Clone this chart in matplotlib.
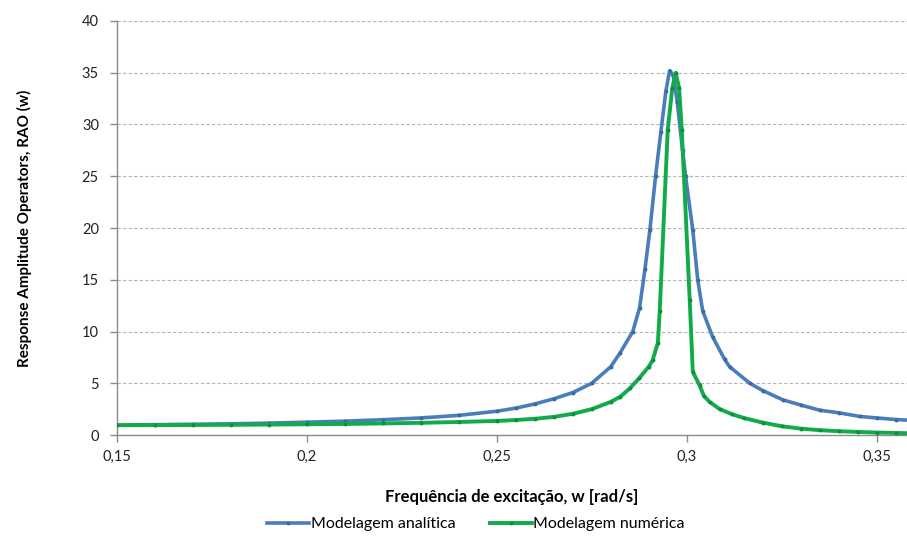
import matplotlib
matplotlib.use("Agg")
import matplotlib.pyplot as plt
from matplotlib.ticker import FuncFormatter

# Excitation frequency [rad/s] and RAO values, analytical model
w_analitica = [0.150, 0.160, 0.170, 0.180, 0.190, 0.200, 0.210, 0.220, 0.230,
               0.240, 0.250, 0.255, 0.260, 0.265, 0.270, 0.275, 0.280, 0.2824,
               0.2858, 0.2876, 0.2890, 0.2903, 0.2918, 0.2932, 0.2945, 0.2955,
               0.2965, 0.2975, 0.2989, 0.2997, 0.3016, 0.3029, 0.3042, 0.3068,
               0.3100, 0.3113, 0.3166, 0.3200, 0.3253, 0.3300, 0.3350, 0.3400,
               0.3455, 0.3500, 0.3550, 0.3600]
rao_analitica = [0.95, 1.00, 1.04, 1.08, 1.15, 1.24, 1.34, 1.48, 1.65,
                 1.90, 2.30, 2.60, 3.00, 3.50, 4.10, 5.00, 6.60, 7.90,
                 10.0, 12.3, 16.0, 19.8, 25.0, 29.3, 33.2, 35.2,
                 34.7, 32.2, 27.5, 25.0, 19.8, 15.0, 12.0, 9.5,
                 7.30, 6.60, 5.00, 4.30, 3.40, 2.90, 2.40, 2.15,
                 1.80, 1.65, 1.50, 1.40]

# Excitation frequency [rad/s] and RAO values, numerical model
w_numerica = [0.150, 0.160, 0.170, 0.180, 0.190, 0.200, 0.210, 0.220, 0.230,
              0.240, 0.250, 0.255, 0.260, 0.265, 0.270, 0.275, 0.280, 0.2825,
              0.285, 0.2875, 0.290, 0.291, 0.2924, 0.2929, 0.2950, 0.2962,
              0.2971, 0.2980, 0.2987, 0.3008, 0.3016, 0.3034, 0.3045, 0.3060,
              0.3087, 0.3120, 0.3150, 0.3200, 0.3250, 0.3300, 0.3350, 0.3400,
              0.3450, 0.3500, 0.3550, 0.3600]
rao_numerica = [0.95, 0.96, 0.97, 0.99, 1.01, 1.04, 1.07, 1.12, 1.18,
                1.26, 1.36, 1.45, 1.57, 1.75, 2.05, 2.50, 3.20, 3.70,
                4.50, 5.50, 6.60, 7.20, 8.90, 12.0, 29.5, 33.5,
                35.0, 33.5, 29.5, 13.0, 6.10, 4.80, 3.80, 3.20,
                2.50, 2.00, 1.65, 1.20, 0.85, 0.62, 0.47, 0.37,
                0.30, 0.24, 0.20, 0.16]

x_ticks = [0.15, 0.20, 0.25, 0.30, 0.35]
y_ticks = [0, 5, 10, 15, 20, 25, 30, 35, 40]

label_analitica = "Modelagem analítica"
label_numerica = "Modelagem numérica"
x_title = "Frequência de excitação, w [rad/s]"
y_title = "Response Amplitude Operators, RAO (w)"

plt.rcParams["font.family"] = ["Lato", "DejaVu Sans"]

fig = plt.figure(figsize=(9.07, 5.38), dpi=100)
ax = fig.add_axes([0.129, 0.1914, 0.871, 0.7696])

blue = "#4a7ebb"
green = "#12ab4a"

ax.plot(w_analitica, rao_analitica, color=blue, lw=2.6, marker="o", ms=1.8,
        mfc="#3b6aa3", mec="#3b6aa3", label=label_analitica, zorder=3,
        solid_joinstyle="round")
ax.plot(w_numerica, rao_numerica, color=green, lw=2.8, marker="o", ms=1.8,
        mfc="#0e8f3d", mec="#0e8f3d", label=label_numerica, zorder=4,
        solid_joinstyle="round")

ax.set_xlim(0.15, 0.358)
ax.set_ylim(0, 40)
ax.set_xticks(x_ticks)
ax.set_yticks(y_ticks)
ax.xaxis.set_major_formatter(FuncFormatter(lambda v, p: f"{v:.2f}".rstrip("0").replace(".", ",")))

ax.grid(axis="y", color="#b4b4b4", lw=0.8, ls=(0, (3, 2)))
ax.set_axisbelow(True)

for s in ("top", "right"):
    ax.spines[s].set_visible(False)
for s in ("left", "bottom"):
    ax.spines[s].set_color("#8c8c8c")
    ax.spines[s].set_linewidth(1.0)

ax.tick_params(axis="both", colors="#8c8c8c", length=5, width=1.0,
               labelcolor="#222222", labelsize=10.5)
ax.tick_params(axis="y", pad=8)
ax.tick_params(axis="x", pad=6)

ax.set_xlabel(x_title, fontsize=12, fontweight="bold", labelpad=18)
ax.set_ylabel(y_title, fontsize=11, fontweight="bold", labelpad=36)

leg = fig.legend(loc="center", bbox_to_anchor=(0.525, 0.026), ncol=2,
                 frameon=False, fontsize=11.5, handlelength=2.6,
                 columnspacing=2.2, handletextpad=0.1)

fig.savefig("out.png", dpi=100)
